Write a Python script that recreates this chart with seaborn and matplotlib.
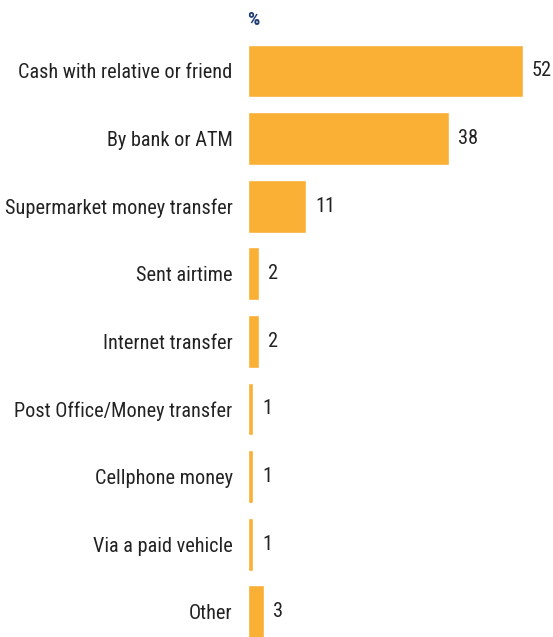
import matplotlib
matplotlib.use("Agg")
import matplotlib.pyplot as plt
import seaborn as sns
import pandas as pd

categories = [
    "Cash with relative or friend",
    "By bank or ATM",
    "Supermarket money transfer",
    "Sent airtime",
    "Internet transfer",
    "Post Office/Money transfer",
    "Cellphone money",
    "Via a paid vehicle",
    "Other",
]
values = [52, 38, 11, 2, 2, 1, 1, 1, 3]

df = pd.DataFrame({"category": categories, "value": values})

sns.set_theme(style="white")
plt.rcParams["font.family"] = ["Roboto Condensed", "DejaVu Sans"]

W, H = 553, 637
fig = plt.figure(figsize=(W / 100, H / 100), dpi=100)
left_px, right_px, top_px = 248, 544, 37.2
ax = fig.add_axes([left_px / W, 0, (right_px - left_px) / W, 1 - top_px / H])

sns.barplot(data=df, x="value", y="category", orient="h", color="#F9B035",
            width=0.78, saturation=1, ax=ax)

ax.set_xlim(0, 56)
ax.set_ylim(8.373, -0.5)
for s in ax.spines.values():
    s.set_visible(False)
ax.set_xticks([])
ax.set_xlabel("")
ax.set_ylabel("")
ax.tick_params(axis="y", length=0, pad=11, labelsize=14.6, labelcolor="#222222")

for i, v in enumerate(values):
    ax.annotate(str(v), xy=(v, i), xytext=(6.5, 0), textcoords="offset points",
                va="center", ha="left", fontsize=14.6, color="#222222")

fig.text(247 / W, 1 - 20 / H, "%", fontsize=14, fontweight="bold",
         color="#1F3C73", ha="left", va="center")

fig.savefig("out.png", dpi=100, facecolor="white")
